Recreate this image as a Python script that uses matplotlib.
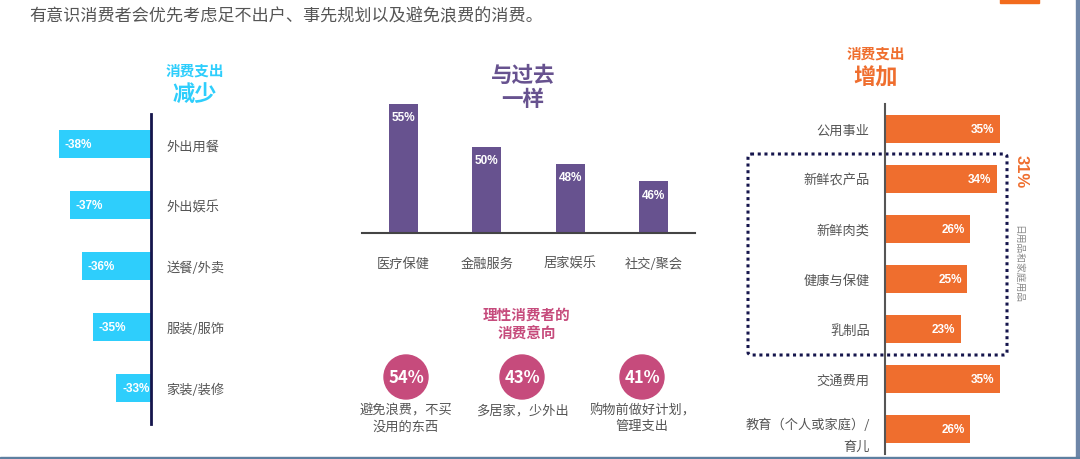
import matplotlib.pyplot as plt
from matplotlib.patches import Circle, FancyBboxPatch, Rectangle
import numpy as np

plt.rcParams['font.family'] = ['Noto Sans CJK SC', 'DejaVu Sans']

W, H = 1080, 460

# 数据
title = "有意识消费者会优先考虑足不出户、事先规划以及避免浪费的消费。"

less_cats = ["外出用餐", "外出娱乐", "送餐/外卖", "服装/服饰", "家装/装修"]
less_vals = [-38, -37, -36, -35, -33]

same_cats = ["医疗保健", "金融服务", "居家娱乐", "社交/聚会"]
same_vals = [55, 50, 48, 46]

more_cats = ["公用事业", "新鲜农产品", "新鲜肉类", "健康与保健", "乳制品", "交通费用", "教育（个人或家庭）/\n育儿"]
more_vals = [35, 34, 26, 25, 23, 35, 26]
group_share = 31
group_name = "日用品和家庭用品"

intent_vals = [54, 43, 41]
intent_text = ["避免浪费，不买\n没用的东西", "多居家，少外出", "购物前做好计划，\n管理支出"]

cyan = "#2ECEFC"
purple = "#67528F"
orange = "#EF6E2E"
pink = "#C64B7C"
navy = "#15154C"
gray = "#555555"
num_font = ['Liberation Sans', 'DejaVu Sans']


def box(x0, y0, x1, y1):
    return [x0 / W, 1 - y1 / H, (x1 - x0) / W, (y1 - y0) / H]


fig = plt.figure(figsize=(W / 100, H / 100), dpi=100)

# 背景层，像素坐标
bg = fig.add_axes([0, 0, 1, 1])
bg.set_xlim(0, W)
bg.set_ylim(H, 0)
bg.axis('off')

bg.text(29, 16, title, fontsize=12.3, color=gray, va='center', ha='left')
bg.add_patch(Rectangle((1000, 0), 39, 3.5, color="#F26B1D"))
bg.add_patch(Rectangle((1076, 0), 4, H, color="#6E86A8"))
bg.add_patch(Rectangle((0, 457.5), W, 2.5, color="#5E7FA0"))

# 左：减少
bg.text(195, 71, "消费支出", fontsize=10.5, color=cyan, fontweight='bold', ha='center', va='center')
bg.text(195, 94, "减少", fontsize=16, color=cyan, fontweight='bold', ha='center', va='center')

# 中：一样
bg.text(523, 75, "与过去", fontsize=15.5, color=purple, fontweight='bold', ha='center', va='center')
bg.text(523, 100, "一样", fontsize=15.5, color=purple, fontweight='bold', ha='center', va='center')

# 右：增加
bg.text(876, 54, "消费支出", fontsize=10.5, color=orange, fontweight='bold', ha='center', va='center')
bg.text(876, 78, "增加", fontsize=16, color=orange, fontweight='bold', ha='center', va='center')

# 虚线框
bg.add_patch(FancyBboxPatch((748, 155), 259, 201, boxstyle="round,pad=0,rounding_size=3",
                            fill=False, edgecolor=navy, linestyle=(0, (1, 1.2)), linewidth=2.2))
bg.text(1021, 172, f"{group_share}%", fontsize=12, color=orange, fontweight='bold',
        rotation=-90, ha='center', va='center', family=num_font)
bg.text(1018, 264, group_name, fontsize=7, color="#888888", rotation=-90, ha='center', va='center')

# 理性消费者
bg.text(527, 315, "理性消费者的", fontsize=10.5, color=pink, fontweight='bold', ha='center', va='center')
bg.text(527, 334, "消费意向", fontsize=10.5, color=pink, fontweight='bold', ha='center', va='center')
cx = [406, 522, 642]
for x, v, t in zip(cx, intent_vals, intent_text):
    bg.add_patch(Circle((x, 378), 22, color=pink))
    bg.text(x, 378, f"{v}%", fontsize=12, color='white', fontweight='bold', ha='center', va='center')
    bg.text(x, 411 if "\n" not in t else 419, t, fontsize=9.5, color=gray, ha='center', va='center',
            linespacing=1.25)

# 左图
base = -30
ax1 = fig.add_axes(box(40, 115, 151, 425))
y1 = np.arange(len(less_cats))
ax1.barh(y1, np.array(less_vals) - base, left=base, height=0.46, color=cyan)
ax1.set_xlim(-39.6, base)
ax1.set_ylim(len(less_cats) - 0.4, -0.5)
for s in ['top', 'left', 'bottom']:
    ax1.spines[s].set_visible(False)
ax1.spines['right'].set_color(navy)
ax1.spines['right'].set_linewidth(2)
ax1.set_xticks([])
ax1.yaxis.tick_right()
ax1.set_yticks(y1)
ax1.set_yticklabels(less_cats, fontsize=9.5, color=gray)
ax1.tick_params(axis='y', length=0, pad=11)
ax1.set_facecolor('none')
for i, v in enumerate(less_vals):
    ax1.text(v + 0.5, i, f"{v}%", color='white', fontsize=8.5, fontweight='bold',
             ha='left', va='center', family=num_font)

# 中图
ax2 = fig.add_axes(box(362, 100, 695, 234))
x2 = np.arange(len(same_cats))
ax2.bar(x2, same_vals, width=0.35, color=purple, bottom=0)
ax2.set_ylim(40, 55.6)
ax2.set_xlim(-0.5, len(same_cats) - 0.5)
for s in ['top', 'left', 'right']:
    ax2.spines[s].set_visible(False)
ax2.spines['bottom'].set_color("#444444")
ax2.spines['bottom'].set_linewidth(1.5)
ax2.set_yticks([])
ax2.set_xticks(x2)
ax2.set_xticklabels(same_cats, fontsize=9.5, color=gray)
ax2.tick_params(axis='x', length=0, pad=17)
ax2.set_facecolor('none')
for i, v in enumerate(same_vals):
    ax2.annotate(f"{v}%", (i, v), xytext=(0, -9.5), textcoords='offset points', color='white',
                 fontsize=8.5, fontweight='bold', ha='center', va='center', family=num_font)

# 右图
ax3 = fig.add_axes(box(885, 105, 1005, 455))
y3 = np.arange(len(more_cats))
ax3.barh(y3, more_vals, height=0.56, color=orange)
ax3.set_xlim(0, 36.5)
ax3.set_ylim(len(more_cats) - 0.5, -0.5)
for s in ['top', 'right', 'bottom']:
    ax3.spines[s].set_visible(False)
ax3.spines['left'].set_color("#555555")
ax3.spines['left'].set_linewidth(1.5)
ax3.set_xticks([])
ax3.set_yticks(y3)
ax3.set_yticklabels(more_cats, fontsize=9.5, color=gray, linespacing=1.9)
ax3.tick_params(axis='y', length=0, pad=11)
ax3.set_facecolor('none')
for i, v in enumerate(more_vals):
    ax3.annotate(f"{v}%", (v, i), xytext=(-4, 0), textcoords='offset points', color='white',
                 fontsize=8.5, fontweight='bold', ha='right', va='center', family=num_font)

fig.savefig("out.png", dpi=100)
